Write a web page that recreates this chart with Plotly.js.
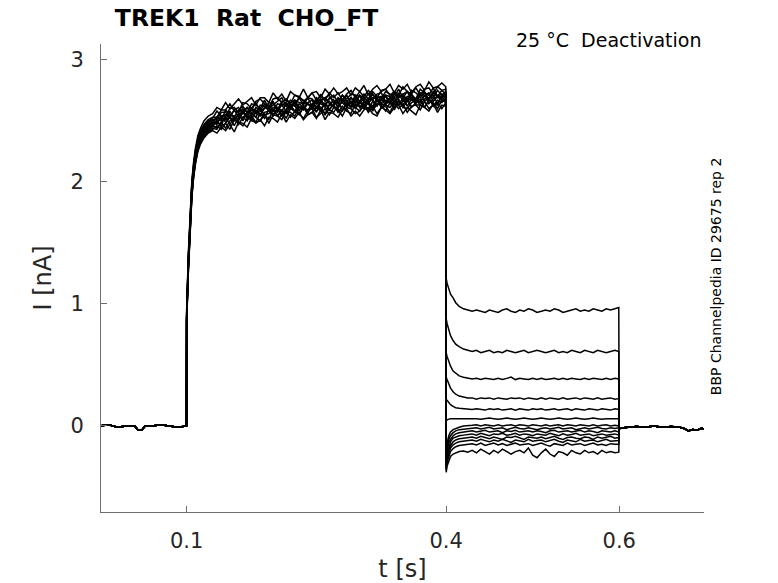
<!DOCTYPE html>
<html>
<head>
<meta charset="utf-8">
<script src="https://cdn.plot.ly/plotly-3.0.1.min.js"></script>
<style>
  html, body { margin: 0; padding: 0; background: #fff; }
  #chart { width: 778px; height: 583px; }
</style>
</head>
<body>
<div id="chart"></div>
<script>
// holding baseline before the step (shared by all sweeps)
var t_base = [0, 0.01, 0.02, 0.03, 0.04, 0.042, 0.044, 0.048, 0.050, 0.052, 0.06, 0.07, 0.08, 0.09, 0.0998];
var i_base = [0.0, 0.01, -0.01, 0.0, 0.0, -0.02, -0.035, -0.035, -0.02, 0.0, 0.0, 0.01, 0.0, -0.01, 0.0];

// activation step 0.1 - 0.4 s
var t_act = [0.1, 0.102, 0.104, 0.106, 0.108, 0.110, 0.113, 0.116, 0.120, 0.125, 0.130,
             0.135, 0.140, 0.145, 0.150, 0.155, 0.160, 0.165, 0.170, 0.175, 0.180,
             0.185, 0.190, 0.195, 0.200, 0.205, 0.210, 0.215, 0.220, 0.225, 0.230,
             0.235, 0.240, 0.245, 0.250, 0.255, 0.260, 0.265, 0.270, 0.275, 0.280,
             0.285, 0.290, 0.295, 0.300, 0.305, 0.310, 0.315, 0.320, 0.325, 0.330,
             0.335, 0.340, 0.345, 0.350, 0.355, 0.360, 0.365, 0.370, 0.375, 0.380,
             0.385, 0.390, 0.395, 0.3995];

var act1  = [0.95,1.42,1.76,2.01,2.16,2.27,2.38,2.44,2.50,2.54,2.56,
  2.61,2.59,2.65,2.60,2.64,2.68,2.63,2.66,2.69,2.63,2.69,2.69,2.65,2.73,2.68,2.72,2.66,2.74,2.71,2.69,
  2.76,2.69,2.73,2.74,2.69,2.76,2.72,2.77,2.72,2.74,2.77,2.71,2.77,2.74,2.79,2.71,2.76,2.79,2.74,2.76,
  2.80,2.73,2.79,2.76,2.80,2.73,2.78,2.80,2.75,2.82,2.77,2.78,2.81,2.78];
var act2  = [0.93,1.40,1.74,1.99,2.14,2.25,2.36,2.42,2.47,2.51,2.53,
  2.53,2.59,2.59,2.64,2.58,2.57,2.65,2.64,2.60,2.66,2.68,2.64,2.61,2.68,2.69,2.65,2.68,2.64,2.71,2.70,
  2.66,2.69,2.73,2.67,2.71,2.67,2.73,2.69,2.73,2.67,2.72,2.75,2.69,2.74,2.70,2.75,2.71,2.69,2.75,2.76,
  2.71,2.74,2.71,2.78,2.74,2.72,2.77,2.71,2.76,2.77,2.72,2.78,2.75,2.76];
var act3  = [0.92,1.38,1.72,1.98,2.13,2.24,2.35,2.41,2.46,2.50,2.52,
  2.58,2.54,2.54,2.60,2.61,2.57,2.60,2.57,2.64,2.63,2.60,2.67,2.60,2.63,2.66,2.69,2.62,2.67,2.64,2.69,
  2.63,2.69,2.68,2.64,2.72,2.66,2.68,2.71,2.65,2.71,2.68,2.72,2.71,2.66,2.72,2.68,2.74,2.70,2.68,2.74,
  2.72,2.69,2.76,2.69,2.74,2.71,2.68,2.76,2.73,2.71,2.77,2.70,2.75,2.72];
var act4  = [0.91,1.37,1.71,1.97,2.12,2.23,2.34,2.40,2.45,2.49,2.51,
  2.51,2.57,2.57,2.53,2.59,2.61,2.56,2.61,2.59,2.65,2.58,2.60,2.65,2.64,2.59,2.66,2.67,2.64,2.62,2.69,
  2.67,2.64,2.62,2.69,2.66,2.69,2.71,2.64,2.69,2.66,2.71,2.64,2.71,2.70,2.66,2.73,2.67,2.72,2.73,2.66,
  2.69,2.73,2.69,2.72,2.67,2.75,2.73,2.69,2.73,2.71,2.69,2.75,2.71,2.74];
var act5  = [0.90,1.36,1.70,1.96,2.11,2.22,2.33,2.39,2.44,2.48,2.50,
  2.53,2.50,2.59,2.55,2.53,2.59,2.62,2.57,2.59,2.56,2.63,2.62,2.59,2.66,2.59,2.63,2.65,2.60,2.67,2.65,
  2.64,2.69,2.62,2.67,2.64,2.62,2.69,2.67,2.64,2.71,2.66,2.69,2.64,2.71,2.69,2.66,2.72,2.66,2.69,2.71,
  2.65,2.72,2.69,2.72,2.74,2.67,2.68,2.72,2.74,2.67,2.73,2.71,2.69,2.74];
var act6  = [0.90,1.35,1.69,1.95,2.10,2.21,2.32,2.38,2.43,2.47,2.49,
  2.47,2.54,2.55,2.53,2.59,2.53,2.58,2.61,2.54,2.61,2.58,2.64,2.58,2.58,2.64,2.63,2.58,2.65,2.67,2.61,
  2.61,2.65,2.67,2.60,2.67,2.69,2.64,2.62,2.68,2.67,2.62,2.69,2.65,2.71,2.66,2.64,2.69,2.69,2.64,2.71,
  2.70,2.66,2.73,2.66,2.68,2.71,2.65,2.73,2.71,2.68,2.74,2.69,2.68,2.73];
var act7  = [0.89,1.34,1.68,1.94,2.09,2.20,2.31,2.37,2.42,2.46,2.48,
  2.53,2.52,2.51,2.58,2.51,2.55,2.58,2.53,2.60,2.59,2.55,2.61,2.63,2.59,2.57,2.64,2.62,2.60,2.66,2.58,
  2.65,2.64,2.60,2.66,2.68,2.62,2.63,2.67,2.61,2.67,2.66,2.62,2.70,2.64,2.69,2.65,2.62,2.69,2.70,2.65,
  2.68,2.63,2.71,2.70,2.66,2.72,2.67,2.66,2.71,2.73,2.66,2.70,2.72,2.69];
var act8  = [0.88,1.33,1.67,1.93,2.09,2.20,2.31,2.37,2.42,2.46,2.48,
  2.48,2.54,2.49,2.55,2.54,2.50,2.58,2.54,2.60,2.56,2.54,2.61,2.59,2.55,2.61,2.58,2.64,2.62,2.58,2.64,
  2.61,2.58,2.64,2.66,2.60,2.64,2.66,2.61,2.60,2.68,2.63,2.66,2.62,2.66,2.61,2.68,2.67,2.63,2.67,2.70,
  2.64,2.69,2.63,2.66,2.70,2.68,2.64,2.72,2.66,2.69,2.71,2.64,2.71,2.69];
var act9  = [0.88,1.32,1.66,1.92,2.08,2.19,2.30,2.36,2.41,2.45,2.47,
  2.50,2.46,2.55,2.53,2.50,2.56,2.50,2.57,2.56,2.53,2.60,2.55,2.56,2.61,2.60,2.55,2.60,2.64,2.57,2.62,
  2.59,2.64,2.62,2.57,2.66,2.61,2.59,2.64,2.66,2.59,2.64,2.61,2.68,2.61,2.66,2.65,2.60,2.68,2.64,2.63,
  2.69,2.66,2.63,2.69,2.62,2.68,2.67,2.65,2.71,2.64,2.68,2.70,2.67,2.65];
var act10 = [0.87,1.31,1.65,1.91,2.07,2.18,2.29,2.35,2.40,2.44,2.46,
  2.44,2.49,2.53,2.47,2.53,2.51,2.57,2.52,2.51,2.58,2.56,2.52,2.60,2.59,2.54,2.59,2.56,2.62,2.63,2.55,
  2.61,2.59,2.63,2.62,2.58,2.65,2.59,2.57,2.63,2.65,2.61,2.66,2.60,2.65,2.64,2.59,2.66,2.62,2.68,2.63,
  2.61,2.66,2.68,2.61,2.66,2.69,2.63,2.63,2.68,2.69,2.62,2.67,2.65,2.69];
var act11 = [0.86,1.30,1.64,1.90,2.06,2.17,2.28,2.34,2.39,2.43,2.45,
  2.50,2.45,2.48,2.53,2.46,2.53,2.53,2.50,2.57,2.53,2.50,2.57,2.58,2.54,2.60,2.54,2.58,2.57,2.54,2.61,
  2.61,2.56,2.63,2.58,2.61,2.56,2.63,2.62,2.59,2.58,2.65,2.62,2.61,2.58,2.65,2.64,2.59,2.67,2.61,2.64,
  2.66,2.59,2.66,2.63,2.68,2.61,2.65,2.68,2.61,2.67,2.64,2.63,2.70,2.65];
var act12 = [0.86,1.29,1.63,1.89,2.05,2.16,2.27,2.33,2.38,2.42,2.44,
  2.43,2.49,2.44,2.50,2.52,2.47,2.53,2.56,2.50,2.49,2.56,2.55,2.51,2.59,2.54,2.58,2.52,2.60,2.58,2.55,
  2.62,2.55,2.57,2.61,2.61,2.55,2.60,2.63,2.57,2.62,2.58,2.56,2.64,2.62,2.60,2.65,2.58,2.64,2.63,2.58,
  2.65,2.61,2.67,2.61,2.60,2.65,2.67,2.63,2.61,2.67,2.65,2.60,2.67,2.66];
var act13 = [0.85,1.28,1.62,1.88,2.04,2.15,2.26,2.32,2.37,2.41,2.43,
  2.46,2.43,2.48,2.43,2.51,2.49,2.46,2.52,2.54,2.49,2.50,2.55,2.48,2.55,2.54,2.51,2.58,2.53,2.58,2.56,
  2.52,2.58,2.60,2.53,2.56,2.60,2.55,2.61,2.59,2.54,2.61,2.60,2.56,2.58,2.63,2.57,2.62,2.56,2.61,2.62,
  2.57,2.64,2.60,2.64,2.57,2.62,2.63,2.59,2.66,2.60,2.63,2.65,2.60,2.65];
var act14 = [0.84,1.27,1.61,1.87,2.03,2.14,2.25,2.31,2.36,2.40,2.42,
  2.40,2.45,2.42,2.47,2.41,2.49,2.48,2.45,2.52,2.48,2.51,2.46,2.53,2.52,2.49,2.56,2.49,2.55,2.52,2.57,
  2.51,2.55,2.57,2.52,2.59,2.51,2.57,2.56,2.53,2.59,2.60,2.54,2.58,2.54,2.59,2.61,2.56,2.54,2.61,2.59,
  2.56,2.61,2.63,2.56,2.61,2.58,2.55,2.63,2.61,2.58,2.64,2.57,2.63,2.62];

// deactivation step 0.4 - 0.6 s
var t_deact = [0.4, 0.401, 0.403, 0.405, 0.408, 0.411, 0.415, 0.42, 0.425, 0.43,
               0.435, 0.440, 0.445, 0.450, 0.455, 0.460, 0.465, 0.470, 0.475, 0.480,
               0.485, 0.490, 0.495, 0.500, 0.505, 0.510, 0.515, 0.520, 0.525, 0.530,
               0.535, 0.540, 0.545, 0.550, 0.555, 0.560, 0.565, 0.570, 0.575, 0.580,
               0.585, 0.590, 0.595, 0.5995];

var deact1  = [1.21,1.17,1.12,1.08,1.05,1.01,0.98,0.96,0.95,0.94,
  0.95,0.94,0.93,0.95,0.94,0.93,0.95,0.96,0.94,0.93,0.95,0.94,0.96,0.95,0.93,0.94,0.95,0.94,0.96,0.95,
  0.93,0.94,0.95,0.96,0.94,0.95,0.94,0.96,0.95,0.94,0.96,0.95,0.96,0.97];
var deact2  = [0.88,0.84,0.78,0.74,0.70,0.67,0.65,0.63,0.62,0.61,
  0.62,0.60,0.61,0.62,0.60,0.61,0.60,0.62,0.61,0.60,0.61,0.62,0.60,0.61,0.62,0.61,0.60,0.61,0.62,0.60,
  0.61,0.60,0.62,0.61,0.60,0.62,0.61,0.60,0.62,0.61,0.60,0.61,0.62,0.61];
var deact3  = [0.60,0.57,0.52,0.49,0.45,0.43,0.41,0.40,0.39,0.385,
  0.39,0.38,0.39,0.385,0.38,0.39,0.38,0.39,0.40,0.38,0.39,0.385,0.38,0.39,0.38,0.39,0.38,0.385,0.39,0.38,
  0.39,0.38,0.39,0.385,0.38,0.39,0.38,0.39,0.385,0.38,0.39,0.38,0.39,0.385];
var deact4  = [0.40,0.38,0.34,0.31,0.28,0.26,0.245,0.235,0.23,0.23,
  0.22,0.23,0.225,0.23,0.22,0.23,0.225,0.22,0.23,0.225,0.23,0.22,0.23,0.225,0.22,0.23,0.22,0.23,0.225,0.22,
  0.23,0.22,0.225,0.23,0.22,0.23,0.225,0.22,0.23,0.22,0.225,0.23,0.22,0.225];
var deact5  = [0.22,0.21,0.19,0.175,0.16,0.15,0.145,0.14,0.14,0.135,
  0.14,0.135,0.13,0.14,0.135,0.14,0.13,0.135,0.14,0.13,0.14,0.135,0.13,0.14,0.135,0.14,0.13,0.135,0.14,0.13,
  0.135,0.14,0.13,0.14,0.135,0.13,0.14,0.135,0.13,0.14,0.135,0.13,0.14,0.135];
var deact6  = [0.04,0.05,0.055,0.06,0.06,0.06,0.065,0.06,0.06,0.065,
  0.06,0.055,0.06,0.065,0.06,0.055,0.06,0.065,0.06,0.055,0.06,0.065,0.06,0.055,0.06,0.065,0.06,0.055,0.06,0.065,
  0.06,0.055,0.06,0.065,0.06,0.055,0.06,0.065,0.06,0.055,0.06,0.06,0.055,0.06];
var deact7  = [-0.22,-0.14,-0.08,-0.05,-0.03,-0.02,-0.01,0.0,0.0,0.005,
  0.01,0.0,0.01,0.005,0.0,0.01,0.0,0.005,0.01,0.0,0.01,0.005,0.0,0.01,0.005,0.0,0.01,0.0,0.005,0.01,
  0.0,0.01,0.005,0.0,0.01,0.005,0.0,0.01,0.0,0.005,0.01,0.0,0.005,0.0];
var deact8  = [-0.26,-0.18,-0.11,-0.08,-0.055,-0.04,-0.03,-0.025,-0.02,-0.02,
  -0.015,-0.025,-0.02,-0.01,-0.025,-0.02,-0.015,-0.03,-0.02,-0.01,-0.02,-0.025,-0.015,-0.02,-0.03,-0.02,-0.015,-0.025,-0.02,-0.01,
  -0.025,-0.02,-0.015,-0.03,-0.02,-0.015,-0.025,-0.02,-0.01,-0.02,-0.025,-0.015,-0.02,-0.015];
var deact9  = [-0.29,-0.21,-0.14,-0.11,-0.08,-0.065,-0.055,-0.05,-0.045,-0.04,
  -0.05,-0.04,-0.035,-0.05,-0.045,-0.04,-0.055,-0.04,-0.045,-0.035,-0.05,-0.045,-0.04,-0.05,-0.04,-0.045,-0.055,-0.04,-0.035,-0.05,
  -0.045,-0.04,-0.05,-0.045,-0.035,-0.05,-0.04,-0.045,-0.055,-0.04,-0.045,-0.05,-0.04,-0.05];
var deact10 = [-0.31,-0.24,-0.17,-0.13,-0.10,-0.09,-0.08,-0.075,-0.07,-0.065,
  -0.075,-0.06,-0.07,-0.08,-0.065,-0.07,-0.06,-0.075,-0.07,-0.06,-0.075,-0.065,-0.07,-0.08,-0.065,-0.07,-0.075,-0.06,-0.07,-0.08,
  -0.065,-0.075,-0.07,-0.06,-0.075,-0.07,-0.065,-0.08,-0.07,-0.065,-0.075,-0.07,-0.065,-0.075];
var deact11 = [-0.33,-0.26,-0.19,-0.16,-0.13,-0.115,-0.105,-0.10,-0.095,-0.09,
  -0.10,-0.085,-0.095,-0.105,-0.09,-0.10,-0.11,-0.09,-0.095,-0.085,-0.10,-0.11,-0.09,-0.095,-0.10,-0.09,-0.105,-0.095,-0.085,-0.10,
  -0.11,-0.095,-0.09,-0.10,-0.105,-0.09,-0.095,-0.11,-0.09,-0.10,-0.095,-0.085,-0.10,-0.095];
var deact12 = [-0.35,-0.28,-0.22,-0.18,-0.155,-0.14,-0.13,-0.125,-0.12,-0.115,
  -0.125,-0.11,-0.12,-0.13,-0.115,-0.125,-0.11,-0.12,-0.135,-0.115,-0.12,-0.13,-0.11,-0.125,-0.12,-0.115,-0.13,-0.12,-0.11,-0.125,
  -0.135,-0.115,-0.12,-0.13,-0.11,-0.125,-0.12,-0.115,-0.13,-0.12,-0.11,-0.125,-0.12,-0.12];
var deact13 = [-0.36,-0.30,-0.25,-0.21,-0.185,-0.17,-0.16,-0.155,-0.15,-0.145,
  -0.155,-0.14,-0.16,-0.15,-0.14,-0.155,-0.145,-0.16,-0.15,-0.14,-0.155,-0.15,-0.145,-0.16,-0.15,-0.14,-0.155,-0.165,-0.145,-0.15,
  -0.16,-0.14,-0.155,-0.15,-0.145,-0.16,-0.15,-0.14,-0.155,-0.15,-0.16,-0.145,-0.15,-0.15];
var deact14 = [-0.38,-0.33,-0.28,-0.25,-0.23,-0.22,-0.21,-0.205,-0.215,-0.20,
  -0.22,-0.19,-0.21,-0.23,-0.20,-0.22,-0.19,-0.21,-0.23,-0.21,-0.20,-0.22,-0.18,-0.24,-0.26,-0.22,-0.19,-0.23,-0.25,-0.21,
  -0.22,-0.24,-0.20,-0.22,-0.23,-0.20,-0.22,-0.21,-0.23,-0.20,-0.22,-0.21,-0.22,-0.215];

// tail after returning to holding potential (shared)
var t_tail = [0.6, 0.601, 0.605, 0.61, 0.62, 0.63, 0.64, 0.65, 0.66, 0.67, 0.675, 0.68, 0.685, 0.69, 0.695, 0.698];
var i_tail = [-0.02, -0.02, -0.015, -0.01, -0.005, -0.01, 0.0, -0.01, -0.005, -0.01, -0.02, -0.04, -0.03, -0.035, -0.02, -0.025];

var act_sweeps = [act1, act2, act3, act4, act5, act6, act7, act8, act9, act10, act11, act12, act13, act14];
var deact_sweeps = [deact1, deact2, deact3, deact4, deact5, deact6, deact7, deact8, deact9, deact10, deact11, deact12, deact13, deact14];

var t_all = [].concat(t_base, t_act, t_deact, t_tail);

var data = [];
for (var k = 0; k < act_sweeps.length; k++) {
    if (act_sweeps[k].length != t_act.length || deact_sweeps[k].length != t_deact.length) {
        throw new Error("sweep " + (k + 1) + " length " + act_sweeps[k].length + "/" + deact_sweeps[k].length);
    }
    data.push({
        type: 'scatter',
        mode: 'lines',
        x: t_all,
        y: [].concat(i_base, act_sweeps[k], deact_sweeps[k], i_tail),
        line: { color: '#000000', width: 1.5 },
        hoverinfo: 'skip',
        showlegend: false
    });
}

var font_main = 'DejaVu Sans, Verdana, sans-serif';
var axis_gray = '#6e6e6e';

var layout = {
    width: 778,
    height: 583,
    margin: { l: 101, r: 74, t: 44, b: 71 },
    paper_bgcolor: '#ffffff',
    plot_bgcolor: '#ffffff',
    font: { family: font_main, color: '#262626' },
    showlegend: false,
    title: {
        text: '<b>TREK1  Rat  CHO_FT</b>',
        font: { size: 23.5, color: '#000000' },
        xref: 'paper', x: 0.023, xanchor: 'left',
        yref: 'container', y: 0.969, yanchor: 'middle'
    },
    xaxis: {
        range: [0.001, 0.698],
        tickvals: [0.1, 0.4, 0.6],
        ticktext: ['0.1', '0.4', '0.6'],
        ticks: 'inside', ticklen: 6, tickcolor: axis_gray, tickwidth: 1,
        showline: true, linecolor: axis_gray, linewidth: 1,
        showgrid: false, zeroline: false,
        tickfont: { size: 21, color: '#262626' },
        ticklabelstandoff: 10,
        title: { text: 't [s]', font: { size: 24, color: '#262626' }, standoff: 8 }
    },
    yaxis: {
        range: [-0.705, 3.13],
        tickvals: [0, 1, 2, 3],
        ticktext: ['0', '1', '2', '3'],
        ticks: 'inside', ticklen: 6, tickcolor: axis_gray, tickwidth: 1,
        showline: true, linecolor: axis_gray, linewidth: 1,
        showgrid: false, zeroline: false,
        tickfont: { size: 21, color: '#262626' },
        ticklabelstandoff: 12,
        title: { text: 'I [nA]', font: { size: 24, color: '#262626' }, standoff: 12 }
    },
    annotations: [
        {
            text: '25 °C  Deactivation',
            xref: 'paper', yref: 'paper', x: 0.998, y: 1.0085,
            xanchor: 'right', yanchor: 'middle', showarrow: false,
            font: { size: 19, color: '#000000' }
        },
        {
            text: 'BBP Channelpedia ID 29675 rep 2',
            xref: 'paper', yref: 'paper', x: 1.02, y: 0.504,
            xanchor: 'center', yanchor: 'middle', showarrow: false,
            textangle: -90,
            font: { size: 14, color: '#000000' }
        }
    ]
};

var config = { displayModeBar: false, staticPlot: true };
Plotly.newPlot('chart', data, layout, config);
</script>
</body>
</html>
